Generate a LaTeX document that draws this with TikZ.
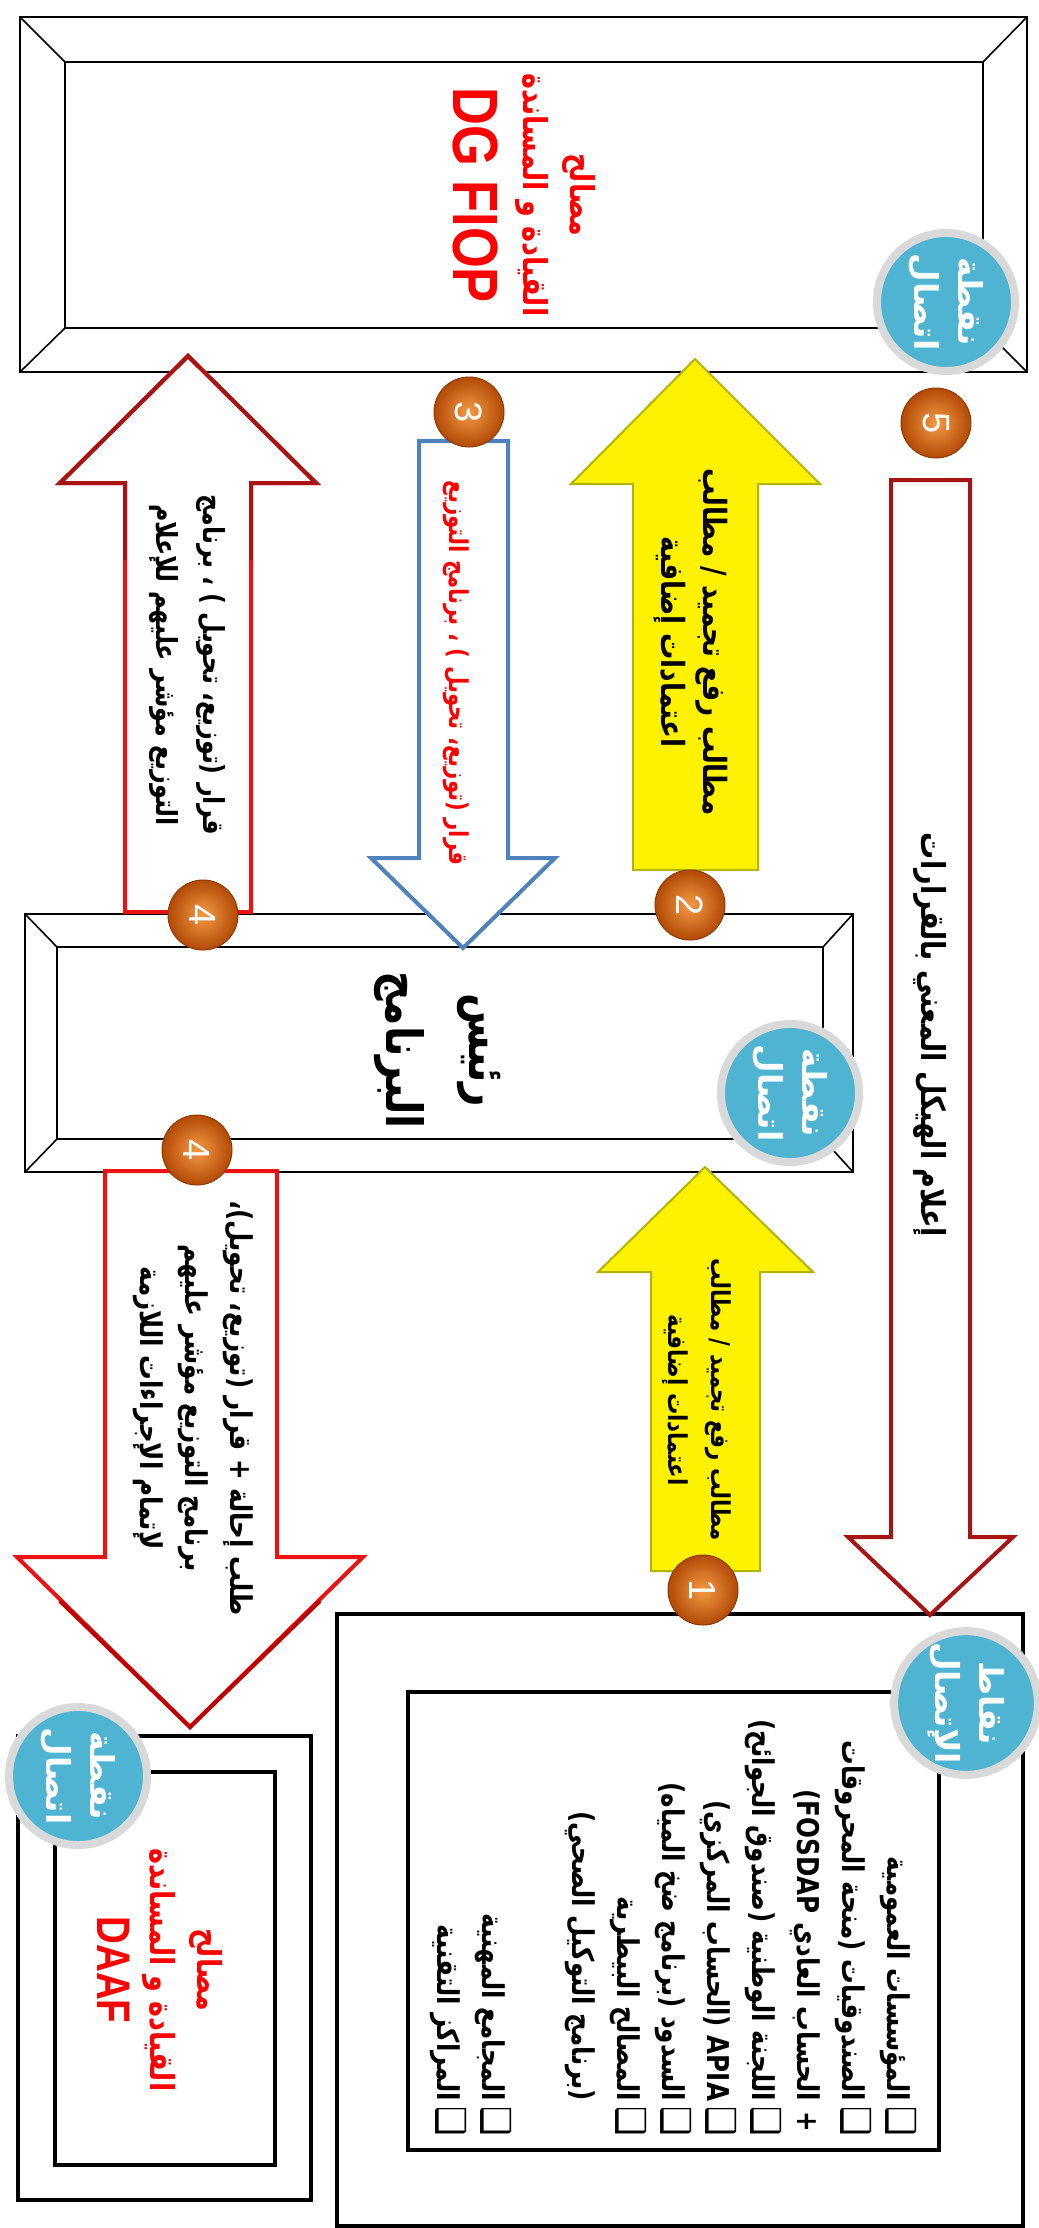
\documentclass[tikz,border=0pt]{standalone}
\usepackage{fontspec}
\usepackage{xcolor}
\usetikzlibrary{shapes,positioning,shadings}
\newfontfamily\arabicfont[Script=Arabic]{DejaVu Sans}
\newfontfamily\latinfont{Liberation Sans}
\TeXXeTstate=1
\newcommand{\ar}[1]{\beginR#1\endR}
\newcommand{\cbx}{\makebox[30pt][c]{\fontsize{40}{40}\selectfont ❑}\hspace{10pt}}
\newcommand{\plusbx}{\makebox[30pt][c]{+}\hspace{10pt}}
\newcommand{\nobx}{\hspace{40pt}}
\definecolor{contactblue}{HTML}{4FB4D2}
\definecolor{ballinner}{HTML}{F59A45}
\definecolor{ballouter}{HTML}{B24A05}
\definecolor{arrowblue}{HTML}{4F81BD}
\definecolor{darkred}{HTML}{A81414}
\definecolor{brightred}{HTML}{EE1111}
\definecolor{yellowedge}{HTML}{B4B400}

\begin{document}
\begin{tikzpicture}[x=1pt,y=-1pt]
    \tikzstyle{bevel} = [rectangle, draw=black, line width=1.6pt, inner sep=0pt, outer sep=0pt]
    \tikzstyle{frame} = [rectangle, draw=black, line width=4pt, inner sep=0pt, outer sep=0pt]
    \tikzstyle{whitearrow} = [fill=white, line width=4pt, line join=miter]
    \tikzstyle{yellowarrow} = [fill=yellow, draw=yellowedge, line width=2pt, line join=miter]
    \tikzstyle{label} = [align=center, rotate=-90, xscale=0.82, inner sep=0pt, font=\arabicfont\bfseries]
    \tikzstyle{numball} = [circle, minimum size=70pt, inner sep=0pt, shade, inner color=ballinner, outer color=ballouter, draw=ballouter!80!black, line width=1pt, text=white, rotate=-90, font=\latinfont\fontsize{38}{38}\selectfont]
    \tikzstyle{contact} = [circle, minimum size=138pt, inner sep=0pt, fill=contactblue, draw=gray!30, line width=8pt, text=white, align=center, rotate=-90, font=\arabicfont\bfseries\fontsize{33}{44}\selectfont]

    \useasboundingbox (0,0) rectangle (1039,2228);

    % boxes
    \node [bevel, minimum width=1007pt, minimum height=355pt] (fiop) at (523.5,194.5) {};
    \node [bevel, minimum width=918pt, minimum height=266pt] (fiopin) at (524,195) {};
    \draw [line width=1.6pt] (fiop.north west) -- (fiopin.north west) (fiop.north east) -- (fiopin.north east)
        (fiop.south west) -- (fiopin.south west) (fiop.south east) -- (fiopin.south east);

    \node [bevel, minimum width=828pt, minimum height=258pt] (chief) at (439,1043) {};
    \node [bevel, minimum width=766pt, minimum height=192pt] (chiefin) at (440,1043) {};
    \draw [line width=1.6pt] (chief.north west) -- (chiefin.north west) (chief.north east) -- (chiefin.north east)
        (chief.south west) -- (chiefin.south west) (chief.south east) -- (chiefin.south east);

    \node [frame, minimum width=686pt, minimum height=612pt] (bodies) at (680,1920) {};
    \node [frame, minimum width=531pt, minimum height=458pt] (bodiesin) at (673.5,1921) {};

    \node [frame, minimum width=293pt, minimum height=464pt] (daaf) at (164.5,1968) {};
    \node [frame, minimum width=220pt, minimum height=393pt] (daafin) at (165,1968.5) {};

    % block arrows
    \draw [whitearrow, draw=brightred] (125,912) -- (125,483) -- (60,483) -- (188,356) -- (316,483) -- (251,483) -- (251,912) -- cycle;
    \draw [line width=4pt, darkred] (125,560) -- (125,483) -- (60,483) -- (188,356) -- (316,483) -- (251,483) -- (251,560);
    \draw [whitearrow, draw=arrowblue] (419,441) -- (419,858) -- (371,858) -- (463,948) -- (555,858) -- (508,858) -- (508,441) -- cycle;
    \draw [yellowarrow] (633,870) -- (633,484) -- (571,484) -- (695,359) -- (820,484) -- (758,484) -- (758,870) -- cycle;
    \draw [whitearrow, draw=darkred] (891,480) -- (891,1537) -- (848,1537) -- (930,1615) -- (1013,1537) -- (970,1537) -- (970,480) -- cycle;
    \draw [whitearrow, draw=brightred] (105,1171) -- (105,1557) -- (17,1557) -- (190,1727) -- (363,1557) -- (277,1557) -- (277,1171) -- cycle;
    \draw [line width=4pt, red!75!black] (60,1601) -- (190,1727) -- (320,1601);
    \draw [yellowarrow] (651,1571) -- (651,1272) -- (598,1272) -- (705,1167) -- (813,1272) -- (760,1272) -- (760,1571) -- cycle;

    % texts
    \node [label, text=red, font=\arabicfont\bfseries\fontsize{33}{47}\selectfont] (fioptext) at (524,195)
        {\ar{مصالح}\\\ar{القيادة و المساندة}\\[16pt]{\latinfont\fontsize{64}{64}\selectfont DG FIOP}};
    \node [label, font=\arabicfont\bfseries\fontsize{50}{83}\selectfont] (chieftext) at (438,1050)
        {\ar{رئيس}\\\ar{البرنامج}};
    \node [label, text=red, font=\arabicfont\bfseries\fontsize{33}{47}\selectfont] (daaftext) at (160,1970)
        {\ar{مصالح}\\\ar{القيادة و المساندة}\\[6pt]{\latinfont\fontsize{47}{47}\selectfont DAAF}};

    \node [label, font=\arabicfont\bfseries\fontsize{29}{47}\selectfont] (inform) at (187,665)
        {\ar{قرار (توزيع، تحويل ) ، برنامج}\\\ar{التوزيع مؤشر عليهم للإعلام}};
    \node [label, text=red, font=\arabicfont\bfseries\fontsize{26}{40}\selectfont] (decision) at (456,673)
        {\ar{قرار (توزيع، تحويل ) ، برنامج التوزيع}};
    \node [label, font=\arabicfont\bfseries\fontsize{32}{42}\selectfont] (requesttop) at (691,642)
        {\ar{مطالب رفع تجميد / مطالب}\\\ar{اعتمادات إضافية}};
    \node [label, font=\arabicfont\bfseries\fontsize{33}{40}\selectfont] (notify) at (930,1035)
        {\ar{إعلام الهيكل المعني بالقرارات}};
    \node [label, font=\arabicfont\bfseries\fontsize{30}{45}\selectfont] (referral) at (193,1408)
        {\ar{طلب إحالة + قرار (توزيع، تحويل)،}\\\ar{برنامج التوزيع مؤشر عليهم}\\\ar{لإتمام الإجراءات اللازمة}};
    \node [label, font=\arabicfont\bfseries\fontsize{26}{43}\selectfont] (requestlow) at (697,1400)
        {\ar{مطالب رفع تجميد / مطالب}\\\ar{اعتمادات إضافية}};

    \node [label, align=right, anchor=east, font=\arabicfont\bfseries\fontsize{30}{45}\selectfont] (items) at (673,2134)
        {\ar{\cbx المؤسسات العمومية}\\
         \ar{\cbx الصندوقيات (منحة المحروقات}\\
         \ar{\plusbx الحساب العادي \beginL(FOSDAP\endL}\\
         \ar{\cbx اللجنة الوطنية (صندوق الجوائح)}\\
         \ar{\cbx APIA (الحساب المركزي)}\\
         \ar{\cbx السدود (برنامج ضخ المياه)}\\
         \ar{\cbx المصالح البيطرية}\\
         \ar{\nobx(برنامج التوكيل الصحي)}\\
         \mbox{}\\
         \ar{\cbx المجامع المهنية}\\
         \ar{\cbx المراكز التقنية}};

    % contact points
    \node [contact] (cfiop) at (946,302) {\ar{نقطة}\\\ar{اتصال}};
    \node [contact] (cchief) at (790,1093) {\ar{نقطة}\\\ar{اتصال}};
    \node [contact] (cbodies) at (966,1703) {\ar{نقاط}\\\ar{الإتصال}};
    \node [contact] (cdaaf) at (78,1776) {\ar{نقطة}\\\ar{اتصال}};

    % step numbers
    \node [numball] (n5) at (936,423) {5};
    \node [numball] (n3) at (469,412) {3};
    \node [numball] (n2) at (690,905) {2};
    \node [numball] (n4a) at (203,915) {4};
    \node [numball] (n4b) at (197,1150) {4};
    \node [numball] (n1) at (703,1590) {1};
\end{tikzpicture}
\end{document}
